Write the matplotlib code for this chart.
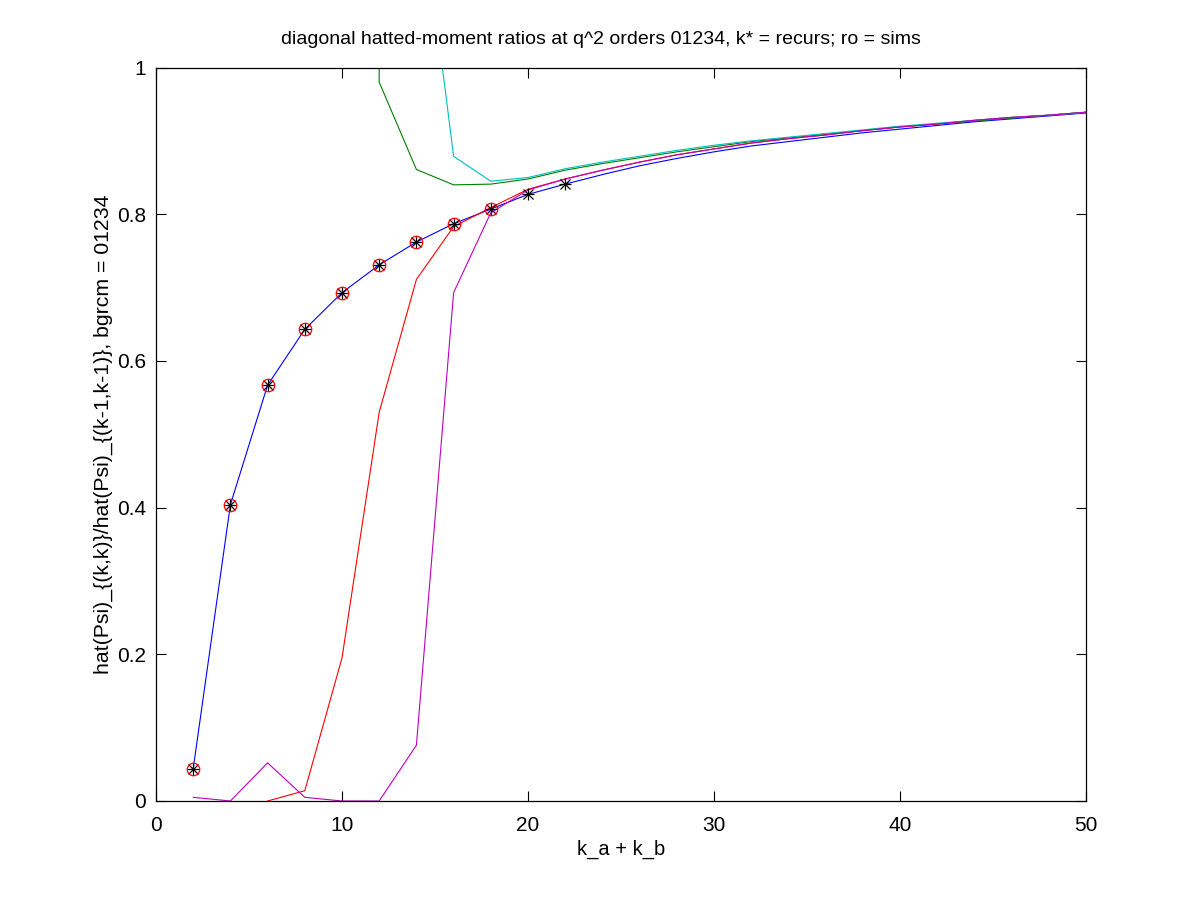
import matplotlib

matplotlib.use("Agg")
import matplotlib.pyplot as plt

plt.rcParams["font.family"] = ["Liberation Sans", "DejaVu Sans"]

# k_a + k_b grid (even orders)
k_blue = [2, 4, 6, 8, 10, 12, 14, 16, 18, 20, 22, 24, 26, 28, 30, 32, 34, 36, 38, 40, 42, 44, 46, 48, 50]
blue = [0.044, 0.404, 0.567, 0.643, 0.693, 0.731, 0.762, 0.787, 0.807, 0.827, 0.841, 0.854, 0.866,
        0.876, 0.885, 0.893, 0.899, 0.905, 0.911, 0.916, 0.921, 0.926, 0.930, 0.934, 0.938]

k_green = [10, 12, 14, 16, 18, 20, 22, 24, 26, 28, 30, 32, 34, 36, 38, 40, 42, 44, 46, 48, 50]
green = [20.0, 0.980, 0.861, 0.840, 0.841, 0.848, 0.860, 0.869, 0.877, 0.885, 0.892, 0.899, 0.904,
         0.909, 0.914, 0.919, 0.923, 0.927, 0.931, 0.935, 0.939]

k_red = [6, 8, 10, 12, 14, 16, 18, 20, 22, 24, 26, 28, 30, 32, 34, 36, 38, 40, 42, 44, 46, 48, 50]
red = [0.0, 0.014, 0.195, 0.530, 0.711, 0.783, 0.809, 0.834, 0.848, 0.860, 0.871, 0.881, 0.889,
       0.897, 0.903, 0.908, 0.914, 0.919, 0.923, 0.928, 0.932, 0.935, 0.939]

k_cyan = [14, 16, 18, 20, 22, 24, 26, 28, 30, 32, 34, 36, 38, 40, 42, 44, 46, 48, 50]
cyan = [1.28, 0.879, 0.845, 0.850, 0.862, 0.871, 0.879, 0.887, 0.894, 0.900, 0.905, 0.910, 0.915,
        0.920, 0.924, 0.928, 0.932, 0.935, 0.939]

k_mag = k_blue
magenta = [0.005, 0.0, 0.052, 0.005, 0.0, 0.0, 0.076, 0.693, 0.802, 0.833, 0.848, 0.860, 0.871,
           0.881, 0.889, 0.897, 0.903, 0.908, 0.914, 0.919, 0.923, 0.928, 0.932, 0.935, 0.939]

# recursion values (stars) and simulations (circles)
k_star = [2, 4, 6, 8, 10, 12, 14, 16, 18, 20, 22]
star = [0.044, 0.404, 0.567, 0.643, 0.693, 0.731, 0.762, 0.787, 0.807, 0.827, 0.841]
k_sim = [2, 4, 6, 8, 10, 12, 14, 16, 18]
sim = [0.044, 0.404, 0.567, 0.643, 0.693, 0.731, 0.762, 0.787, 0.807]

fig = plt.figure(figsize=(12, 9), dpi=100)
ax = fig.add_axes([0.13, 0.11, 0.775, 0.815])

lw = 0.8
ax.plot(k_blue, blue, color="#0000ff", lw=lw)
ax.plot(k_green, green, color="#008000", lw=lw)
ax.plot(k_red, red, color="#ff0000", lw=lw)
ax.plot(k_cyan, cyan, color="#00bfbf", lw=lw)
ax.plot(k_mag, magenta, color="#bf00bf", lw=lw)
ax.plot(k_star, star, "+", color="black", ms=9, mew=0.9)
ax.plot(k_star, star, "x", color="black", ms=7, mew=0.9)
ax.plot(k_sim, sim, "o", mfc="none", mec="#ff0000", ms=9, mew=0.9)

ax.set_xlim(0, 50)
ax.set_ylim(0, 1)
ax.set_xticks([0, 10, 20, 30, 40, 50])
ax.set_yticks([0, 0.2, 0.4, 0.6, 0.8, 1])
ax.set_yticklabels(["0", "0.2", "0.4", "0.6", "0.8", "1"])
ax.tick_params(direction="in", length=7, width=0.8, top=True, right=True, labelsize=15)
ax.tick_params(axis="x", pad=11)
ax.tick_params(axis="y", pad=7)
for s in ax.spines.values():
    s.set_linewidth(0.9)

ax.set_xlabel("k_a + k_b", fontsize=14.5, labelpad=3)
ax.set_ylabel("hat(Psi)_{(k,k)}/hat(Psi)_{(k-1,k-1)}, bgrcm = 01234", fontsize=15.3, labelpad=3)
ax.set_title("diagonal hatted-moment ratios at q^2 orders 01234, k* = recurs; ro = sims",
             fontsize=14, pad=17, x=0.478)

fig.savefig("out.png", dpi=100)
